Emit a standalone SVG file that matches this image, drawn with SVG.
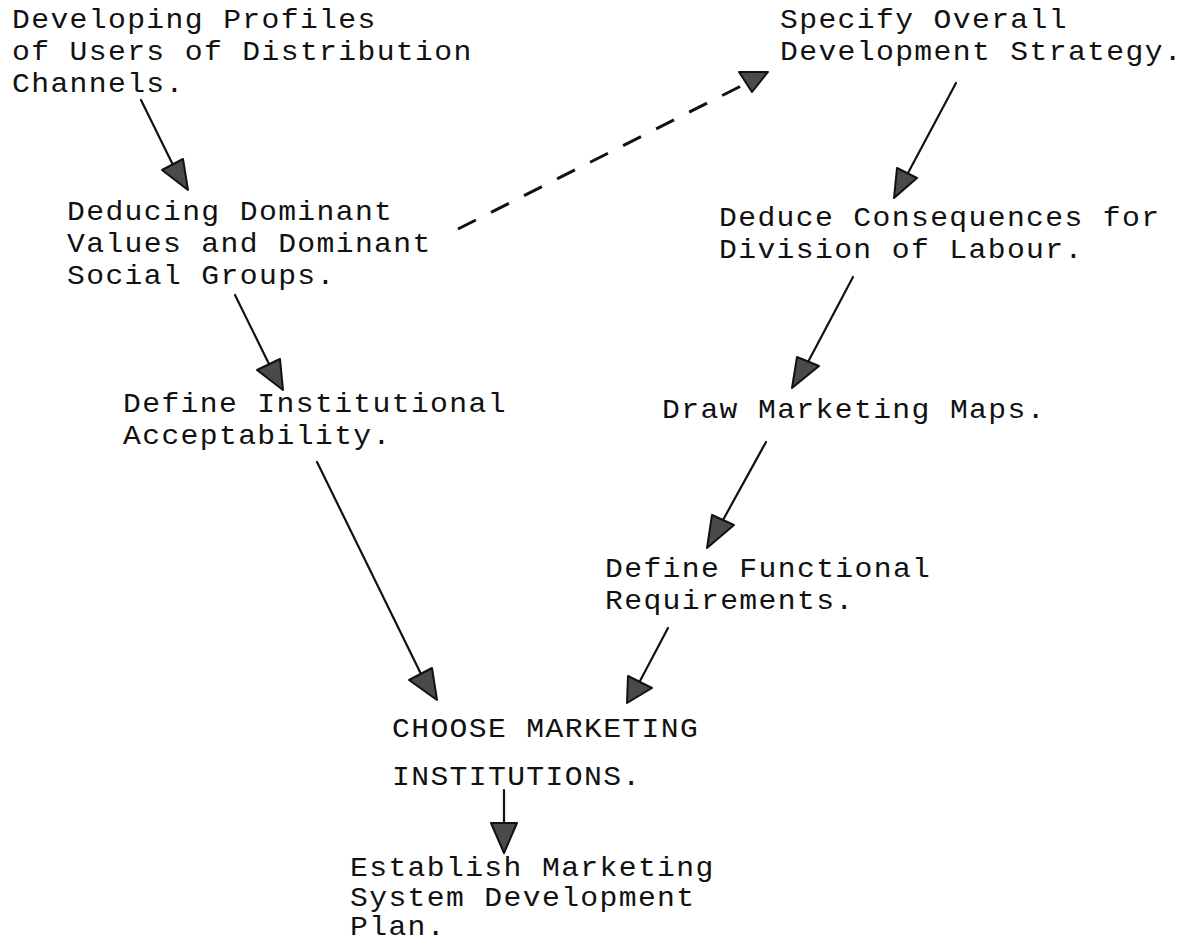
<svg xmlns="http://www.w3.org/2000/svg" width="1189" height="946" viewBox="0 0 1189 946">
<style>
  text { font-family: "Liberation Mono", "Courier New", "DejaVu Sans Mono", monospace; font-size: 27px; letter-spacing: 1.25px; fill: #111; }
  .ln { stroke: #111; stroke-width: 2.2; fill: none; stroke-linecap: round; }
  .dash { stroke: #111; stroke-width: 3; fill: none; stroke-dasharray: 20 17; }
  .head { fill: #4a4a4a; stroke: #111; stroke-width: 2; stroke-linejoin: round; }
</style>
<rect width="1189" height="946" fill="#fff"/>
<g id="connectors">
  <line class="ln" x1="141" y1="100" x2="173" y2="165"/>
  <polygon class="head" points="162,170 183,159 188,190"/>
  <line class="dash" x1="458" y1="229" x2="747" y2="83"/>
  <polygon class="head" points="739,72 768,72 752,92"/>
  <line class="ln" x1="956" y1="83" x2="908" y2="173"/>
  <polygon class="head" points="897,168 917,178 894,198"/>
  <line class="ln" x1="235" y1="295" x2="269" y2="364"/>
  <polygon class="head" points="257,370 280,359 283,390"/>
  <line class="ln" x1="853" y1="277" x2="808" y2="362"/>
  <polygon class="head" points="797,357 819,366 792,388"/>
  <line class="ln" x1="317" y1="462" x2="421" y2="674"/>
  <polygon class="head" points="409,680 432,668 437,700"/>
  <line class="ln" x1="766" y1="442" x2="723" y2="520"/>
  <polygon class="head" points="712,515 734,525 707,548"/>
  <line class="ln" x1="668" y1="628" x2="640" y2="681"/>
  <polygon class="head" points="628,676 652,688 627,703"/>
  <line class="ln" x1="504" y1="790" x2="504" y2="823"/>
  <polygon class="head" points="491,823 517,823 504,853"/>
</g>
<g id="n-profiles">
  <text transform="translate(12,28) scale(1.1,1)">Developing Profiles</text>
  <text transform="translate(12,60) scale(1.1,1)">of Users of Distribution</text>
  <text transform="translate(12,92) scale(1.1,1)">Channels.</text>
</g>
<g id="n-strategy">
  <text transform="translate(780,28) scale(1.1,1)">Specify Overall</text>
  <text transform="translate(780,60) scale(1.1,1)">Development Strategy.</text>
</g>
<g id="n-values">
  <text transform="translate(67,220) scale(1.1,1)">Deducing Dominant</text>
  <text transform="translate(67,252) scale(1.1,1)">Values and Dominant</text>
  <text transform="translate(67,284) scale(1.1,1)">Social Groups.</text>
</g>
<g id="n-labour">
  <text transform="translate(719,226) scale(1.1,1)">Deduce Consequences for</text>
  <text transform="translate(719,258) scale(1.1,1)">Division of Labour.</text>
</g>
<g id="n-acceptability">
  <text transform="translate(123,412) scale(1.1,1)">Define Institutional</text>
  <text transform="translate(123,444) scale(1.1,1)">Acceptability.</text>
</g>
<g id="n-maps">
  <text transform="translate(662,418) scale(1.1,1)">Draw Marketing Maps.</text>
</g>
<g id="n-functional">
  <text transform="translate(605,577) scale(1.1,1)">Define Functional</text>
  <text transform="translate(605,609) scale(1.1,1)">Requirements.</text>
</g>
<g id="n-choose">
  <text transform="translate(392,737) scale(1.1,1)">CHOOSE MARKETING</text>
  <text transform="translate(392,785) scale(1.1,1)">INSTITUTIONS.</text>
</g>
<g id="n-plan">
  <text transform="translate(350,876) scale(1.1,1)">Establish Marketing</text>
  <text transform="translate(350,906) scale(1.1,1)">System Development</text>
  <text transform="translate(350,935) scale(1.1,1)">Plan.</text>
</g>
</svg>
